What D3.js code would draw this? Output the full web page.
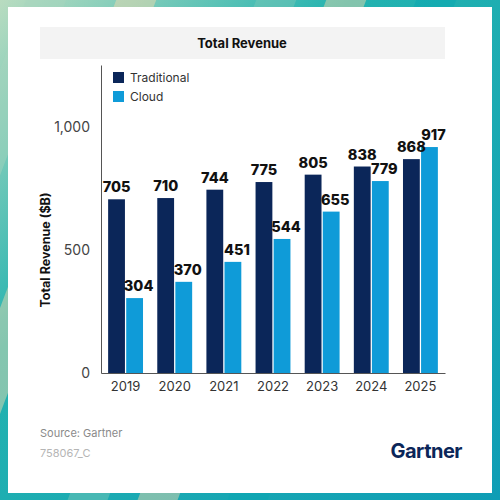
<!DOCTYPE html>
<html><head><meta charset="utf-8">
<script src="https://cdn.jsdelivr.net/npm/d3@7"></script>
<style>html,body{margin:0;padding:0;background:#fff}svg{display:block}</style>
</head><body>
<script>
const years = ["2019","2020","2021","2022","2023","2024","2025"];
const seriesNames = ["Traditional","Cloud"];
const traditional = [705,710,744,775,805,838,868];
const cloud = [304,370,451,544,655,779,917];
const yTicks = [0,500,1000];
const colors = {Traditional:"#0b2659", Cloud:"#0f9bd8"};

const W=500,H=500;
const svg = d3.select("body").append("svg").attr("width",W).attr("height",H);
const defs = svg.append("defs");
const lg = defs.append("linearGradient").attr("id","bg").attr("x1","0").attr("y1","0").attr("x2","1").attr("y2","1");
lg.append("stop").attr("offset","0").attr("stop-color","#b9dcc0");
lg.append("stop").attr("offset","0.35").attr("stop-color","#23b3b0");
lg.append("stop").attr("offset","1").attr("stop-color","#0e9db5");
svg.append("rect").attr("width",W).attr("height",H).attr("fill","url(#bg)");
// decorative diagonal stripes
const stripes = [[-40,"#f6dcae"],[30,"#a7d6bd"],[120,"#f6dcae"],[260,"#7cc8b8"],[330,"#f3d9ab"],[420,"#0aa8b0"]];
const sg = svg.append("g").attr("opacity",0.85);
stripes.forEach(([o,c])=>{
  sg.append("polygon").attr("points",`${o},-10 ${o+40},-10 ${o-160},${520} ${o-200},${520}`).attr("fill",c).attr("opacity",0.55);
});
// card
svg.append("rect").attr("x",8).attr("y",7).attr("width",484).attr("height",486).attr("fill","#ffffff");
// title band
svg.append("rect").attr("x",40).attr("y",27).attr("width",405).attr("height",32).attr("fill","#f3f3f3");
svg.append("text").attr("x",242).attr("y",48).attr("text-anchor","middle")
  .attr("font-family","Inter, 'Open Sans', sans-serif").attr("font-weight","700").attr("font-size",13).attr("fill","#111")
  .text("Total Revenue");

const x0 = d3.scaleBand().domain(years).range([101,445]).paddingInner(0.29).paddingOuter(0.145);
const x1 = d3.scaleBand().domain(seriesNames).range([0,x0.bandwidth()]).paddingInner(0.07);
const y = d3.scaleLinear().domain([0,1250]).range([373,65]);

const data = years.map((yr,i)=>({year:yr, values:[{k:"Traditional",v:traditional[i]},{k:"Cloud",v:cloud[i]}]}));

const groups = svg.append("g").selectAll("g").data(data).join("g").attr("transform",d=>`translate(${x0(d.year)},0)`);
groups.selectAll("rect").data(d=>d.values).join("rect")
  .attr("x",d=>x1(d.k)).attr("width",x1.bandwidth())
  .attr("y",d=>y(d.v)).attr("height",d=>y(0)-y(d.v)).attr("fill",d=>colors[d.k]);
groups.selectAll("text").data(d=>d.values).join("text")
  .attr("x",d=>x1(d.k)+x1.bandwidth()/2 + (d.k==="Cloud"?4:0)).attr("y",d=>y(d.v)-7).attr("text-anchor","middle")
  .attr("font-family","Inter, 'Open Sans', sans-serif").attr("font-weight","800").attr("font-size",14.5).attr("fill","#111")
  .text(d=>d.v);

// y axis
const yAxis = d3.axisLeft(y).tickValues(yTicks).tickSize(0).tickPadding(11).tickFormat(d3.format(","));
const ya = svg.append("g").attr("transform","translate(101,0)").call(yAxis);
ya.select(".domain").attr("stroke","#555").attr("stroke-width",1);
ya.selectAll("text").attr("font-family","Inter, 'Open Sans', sans-serif").attr("font-size",14).attr("fill","#444");
// x axis
const xAxis = d3.axisBottom(x0).tickSize(0).tickPadding(9);
const xa = svg.append("g").attr("transform","translate(0,373)").call(xAxis);
xa.select(".domain").attr("stroke","#555").attr("stroke-width",1);
xa.selectAll("text").attr("font-family","Inter, 'Open Sans', sans-serif").attr("font-size",13).attr("fill","#333");

// y title
svg.append("text").attr("transform","translate(50,250) rotate(-90)").attr("text-anchor","middle")
  .attr("font-family","Inter, 'Open Sans', sans-serif").attr("font-weight","700").attr("font-size",12.5).attr("fill","#111")
  .text("Total Revenue ($B)");

// legend
const leg = svg.append("g").selectAll("g").data(seriesNames).join("g").attr("transform",(d,i)=>`translate(113,${72+i*19})`);
leg.append("rect").attr("width",11).attr("height",11).attr("fill",d=>colors[d]);
leg.append("text").attr("x",17).attr("y",10).attr("font-family","Inter, 'Open Sans', sans-serif").attr("font-size",12).attr("fill","#333").text(d=>d);

// footer
svg.append("text").attr("x",40).attr("y",437).attr("font-family","Inter, 'Open Sans', sans-serif").attr("font-size",11).attr("fill","#8a8a8a").text("Source: Gartner");
svg.append("text").attr("x",40).attr("y",457).attr("font-family","Inter, 'Open Sans', sans-serif").attr("font-size",11).attr("fill","#b5b5b5").text("758067_C");
svg.append("text").attr("x",462).attr("y",458).attr("text-anchor","end").attr("font-family","Inter, 'Open Sans', sans-serif").attr("font-weight","700").attr("font-size",20).attr("letter-spacing","-0.5").attr("fill","#0b2659").text("Gartner");
</script>
</body></html>
